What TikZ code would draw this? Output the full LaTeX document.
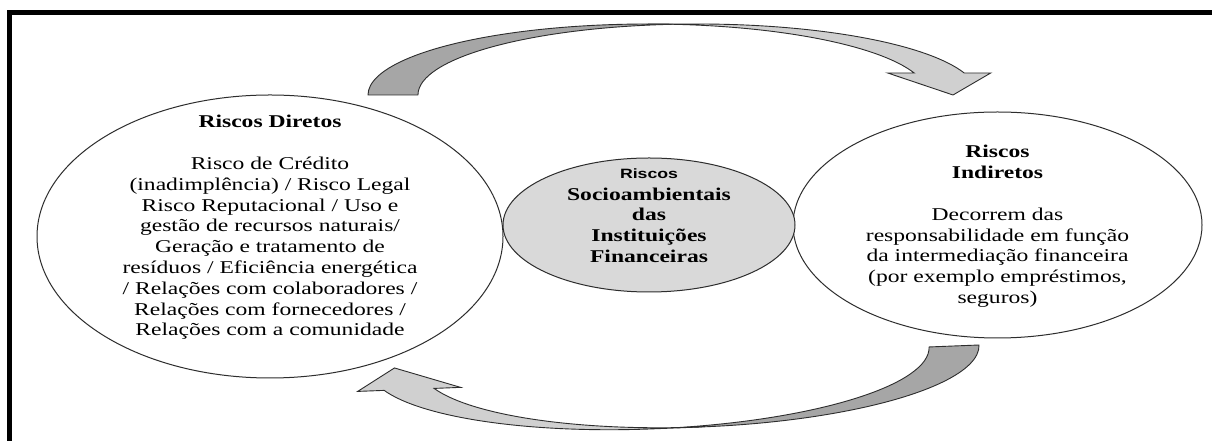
\documentclass[tikz,border=0pt]{standalone}
\usepackage{fontspec}
\setmainfont{Liberation Serif}[FakeStretch=1.31]
\setsansfont{Liberation Sans}[FakeStretch=1.31]
\usetikzlibrary{shapes.geometric}

\definecolor{bandback}{RGB}{166,166,166}
\definecolor{bandfront}{RGB}{208,208,208}
\definecolor{hubfill}{RGB}{217,217,217}
\definecolor{edgegray}{RGB}{45,45,45}

\tikzset{
  riskoval/.style={ellipse, draw=edgegray, line width=1pt, inner sep=0pt, outer sep=0pt},
  risktext/.style={align=center, inner sep=0pt, font=\fontsize{18}{20.8}\selectfont},
  backband/.style={fill=bandback, draw=edgegray, line width=0.9pt, line join=round},
  frontband/.style={fill=bandfront, draw=edgegray, line width=0.9pt, line join=miter},
  % curved block arrow: tail at (0..50,0), arc of height 71, head pointing down at (585,0)
  cyclearrow/.pic={
    \path[backband] (0,0)
      arc[start angle=180, end angle=84.88, x radius=280, y radius=71]
      arc[start angle=95.12, end angle=180, x radius=280, y radius=71] -- cycle;
    \path[frontband] (585,0) -- (519.7,22) -- (546.2,22)
      arc[start angle=18.06, end angle=90, x radius=280, y radius=71]
      -- (330,71)
      arc[start angle=90, end angle=18.06, x radius=280, y radius=71]
      -- (622.7,22) -- cycle;
  }
}

\begin{document}
\begin{tikzpicture}[x=1pt, y=1pt]
\useasboundingbox (0,0) rectangle (1212,441);
\fill[white] (0,0) rectangle (1212,441);

% frame
\draw[line width=5, line join=miter] (9.5,0) -- (9.5,428.5) -- (1212,428.5);

% outer ellipses
\node[riskoval, minimum width=466, minimum height=283] (diretos) at (270,204.5) {};
\node[riskoval, minimum width=409, minimum height=226] (indiretos) at (997.5,216) {};
% central ellipse
\node[riskoval, fill=hubfill, minimum width=292, minimum height=134] (hub) at (649,216) {};

\node[risktext] (diretostxt) at (270,213.4) {%
  \textbf{Riscos Diretos}\\[20.8pt]
  Risco de Crédito\\
  (inadimplência) / Risco Legal\\
  Risco Reputacional / Uso e\\
  gestão de recursos naturais/\\
  Geração e tratamento de\\
  resíduos / Eficiência energética\\
  / Relações com colaboradores /\\
  Relações com fornecedores /\\
  Relações com a comunidade};

\node[risktext] (indiretostxt) at (997.5,214.6) {%
  \textbf{Riscos}\\
  \textbf{Indiretos}\\[20.8pt]
  Decorrem das\\
  responsabilidade em função\\
  da intermediação financeira\\
  (por exemplo empréstimos,\\
  seguros)};

\node[risktext, font=\fontsize{18}{20.8}\selectfont\bfseries] (hubtxt) at (649,225.5) {%
  {\sffamily\fontsize{13.5}{20.8}\selectfont Riscos}\\[1.2pt]
  Socioambientais\\
  das\\
  Instituições\\
  Financeiras};

% cycle arrows
\pic at (368,346) {cyclearrow};
\pic[rotate=182.25] at (979,96) {cyclearrow};
\end{tikzpicture}
\end{document}
